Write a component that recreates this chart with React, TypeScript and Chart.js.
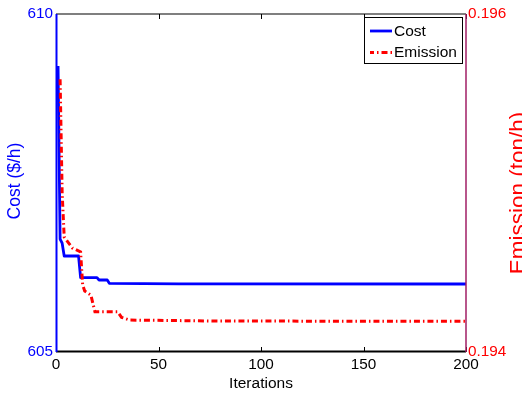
import React, { useEffect, useRef } from "react";
import { Chart, registerables } from "chart.js";

Chart.register(...registerables);

// ---- data ----
const xTicks = [0, 50, 100, 150, 200];
const costTicks = [605, 610];
const emisTicks = [0.194, 0.196];

const costIter = [1, 2, 3, 4, 11, 12, 20, 21, 25, 26, 60, 200];
const costVal = [609.23, 606.67, 606.61, 606.42, 606.42, 606.1, 606.1, 606.065, 606.065, 606.016, 606.008, 606.006];

const emisIter = [2, 3, 4, 8, 12, 13, 14, 17, 19, 30, 32, 36, 80, 200];
const emisVal = [0.195614, 0.194941, 0.19468, 0.194615, 0.194592, 0.194396, 0.194361, 0.194337, 0.194238, 0.194238, 0.194205, 0.194189, 0.194183, 0.194182];

const seriesLabels = ["Cost", "Emission"];
const xTitle = "Iterations";
const yTitle = "Cost ($/h)";
const y2Title = "Emission (ton/h)";

const FONT = "'Liberation Sans', Arial, Helvetica, sans-serif";
const BLUE = "#0000ff";
const RED = "#ff0000";
const DASH = [6, 3, 1.5, 3];

const framePlugin = {
  id: "frame",
  afterDatasetsDraw(chart: any) {
    const { ctx, chartArea: a } = chart;
    const xs = chart.scales.x;
    ctx.save();
    ctx.setLineDash([]);
    ctx.strokeStyle = "#000";
    ctx.lineWidth = 1.2;
    ctx.beginPath();
    ctx.moveTo(a.left, a.top);
    ctx.lineTo(a.right, a.top);
    ctx.stroke();
    ctx.lineWidth = 2;
    ctx.beginPath();
    ctx.moveTo(a.left, a.bottom - 0.5);
    ctx.lineTo(a.right, a.bottom - 0.5);
    ctx.stroke();
    ctx.lineWidth = 1;
    for (const v of xTicks) {
      const px = Math.round(xs.getPixelForValue(v)) + 0.5;
      ctx.beginPath();
      ctx.moveTo(px, a.top);
      ctx.lineTo(px, a.top + 5);
      ctx.moveTo(px, a.bottom);
      ctx.lineTo(px, a.bottom - 5);
      ctx.stroke();
    }
    ctx.strokeStyle = BLUE;
    ctx.lineWidth = 2;
    ctx.beginPath();
    ctx.moveTo(a.left + 0.5, a.top);
    ctx.lineTo(a.left + 0.5, a.bottom);
    ctx.stroke();
    ctx.strokeStyle = "rgb(160,30,100)";
    ctx.lineWidth = 1.5;
    ctx.beginPath();
    ctx.moveTo(a.right, a.top);
    ctx.lineTo(a.right, a.bottom);
    ctx.stroke();
    ctx.restore();
  },
  afterDraw(chart: any) {
    const { ctx } = chart;
    ctx.save();
    ctx.textAlign = "center";
    ctx.textBaseline = "middle";
    ctx.fillStyle = BLUE;
    ctx.font = `17.5px ${FONT}`;
    ctx.translate(14.7, 181);
    ctx.rotate(-Math.PI / 2);
    ctx.fillText(yTitle, 0, 0);
    ctx.setTransform(1, 0, 0, 1, 0, 0);
    ctx.fillStyle = RED;
    ctx.font = `22.5px ${FONT}`;
    ctx.translate(519, 193);
    ctx.rotate(-Math.PI / 2);
    ctx.fillText(y2Title, 0, 0);
    ctx.setTransform(1, 0, 0, 1, 0, 0);

    // legend
    ctx.fillStyle = "#fff";
    ctx.fillRect(364.5, 17.5, 98, 46);
    ctx.strokeStyle = "#000";
    ctx.lineWidth = 1;
    ctx.strokeRect(364.5, 17.5, 98, 46);
    ctx.lineWidth = 2.8;
    ctx.strokeStyle = BLUE;
    ctx.beginPath();
    ctx.moveTo(370, 31);
    ctx.lineTo(392, 31);
    ctx.stroke();
    ctx.strokeStyle = RED;
    ctx.lineWidth = 3;
    ctx.setLineDash(DASH);
    ctx.lineDashOffset = 2;
    ctx.beginPath();
    ctx.moveTo(370, 52.5);
    ctx.lineTo(392, 52.5);
    ctx.stroke();
    ctx.setLineDash([]);
    ctx.fillStyle = "#000";
    ctx.font = `15.5px ${FONT}`;
    ctx.textAlign = "left";
    ctx.fillText(seriesLabels[0], 394, 31.5);
    ctx.fillText(seriesLabels[1], 394, 53);
    ctx.restore();
  },
};

export default function App() {
  const ref = useRef<HTMLCanvasElement | null>(null);
  useEffect(() => {
    if (!ref.current) return;
    const chart = new Chart(ref.current, {
      type: "line",
      data: {
        datasets: [
          {
            label: seriesLabels[1],
            data: emisIter.map((x, i) => ({ x, y: emisVal[i] })),
            yAxisID: "y2",
            borderColor: RED,
            borderWidth: 3,
            borderDash: DASH,
            borderCapStyle: "butt",
            pointRadius: 0,
            fill: false,
            tension: 0,
          },
          {
            label: seriesLabels[0],
            data: costIter.map((x, i) => ({ x, y: costVal[i] })),
            yAxisID: "y",
            borderColor: BLUE,
            borderWidth: 2.8,
            borderJoinStyle: "round",
            pointRadius: 0,
            fill: false,
            tension: 0,
          },
        ],
      },
      options: {
        animation: false,
        responsive: false,
        devicePixelRatio: 1,
        layout: { padding: { top: 14, left: 0, right: 0, bottom: 0 } },
        plugins: { legend: { display: false }, tooltip: { enabled: false } },
        scales: {
          x: {
            type: "linear",
            min: 0,
            max: 200,
            afterBuildTicks: (s: any) => {
              s.ticks = xTicks.map((v) => ({ value: v }));
            },
            afterFit: (s: any) => {
              s.height = 43;
            },
            ticks: {
              color: "#000",
              font: { family: FONT, size: 15.3 },
              padding: 4,
              maxRotation: 0,
              autoSkip: false,
            },
            grid: { display: false, drawTicks: false },
            border: { display: false },
            title: {
              display: true,
              text: xTitle,
              color: "#000",
              font: { family: FONT, size: 15.5 },
              padding: { top: 0, bottom: 2 },
            },
          },
          y: {
            type: "linear",
            position: "left",
            min: 605,
            max: 610,
            afterBuildTicks: (s: any) => {
              s.ticks = costTicks.map((v) => ({ value: v }));
            },
            afterFit: (s: any) => {
              s.width = 56;
            },
            ticks: {
              color: BLUE,
              font: { family: FONT, size: 15.3 },
              padding: 3,
              callback: (v: any) => String(v),
            },
            grid: { display: false, drawTicks: false },
            border: { display: false },
          },
          y2: {
            type: "linear",
            position: "right",
            min: 0.194,
            max: 0.196,
            afterBuildTicks: (s: any) => {
              s.ticks = emisTicks.map((v) => ({ value: v }));
            },
            afterFit: (s: any) => {
              s.width = 56;
            },
            ticks: {
              color: RED,
              font: { family: FONT, size: 15.3 },
              padding: 2,
              callback: (v: any) => Number(v).toFixed(3),
            },
            grid: { display: false, drawTicks: false },
            border: { display: false },
          },
        },
      },
      plugins: [framePlugin],
    } as any);
    return () => chart.destroy();
  }, []);

  return (
    <div style={{ position: "fixed", left: 0, top: 0, width: 522, height: 395, background: "#fff" }}>
      <canvas ref={ref} width={522} height={395} style={{ display: "block" }} />
    </div>
  );
}
